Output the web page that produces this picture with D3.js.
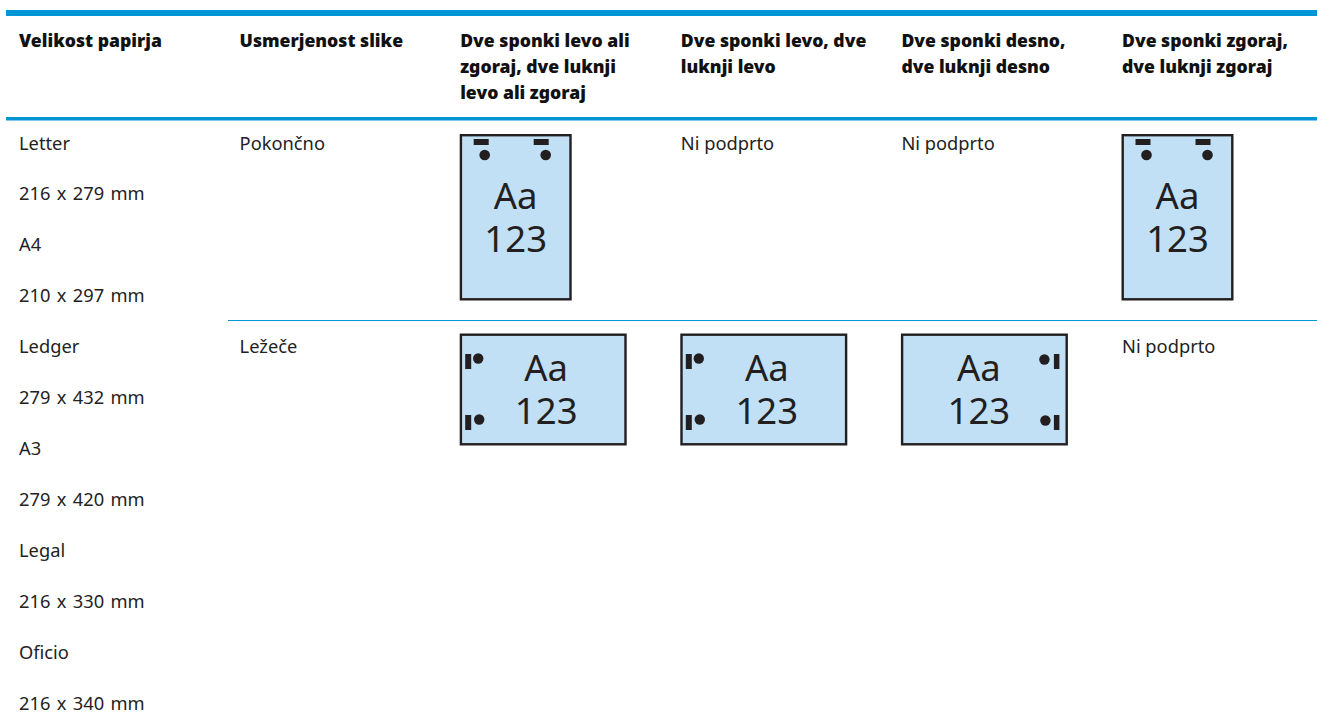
<!DOCTYPE html>
<html><head><meta charset="utf-8">
<script src="https://cdn.jsdelivr.net/npm/d3@7/dist/d3.min.js"></script>
<style>html,body{margin:0;padding:0;background:#fff}svg{display:block}</style>
</head><body><div id="c"></div>
<script>
const paperSizes = ["Letter","216 x 279 mm","A4","210 x 297 mm","Ledger","279 x 432 mm","A3","279 x 420 mm","Legal","216 x 330 mm","Oficio","216 x 340 mm"];
const headers = [
  ["Velikost papirja"],
  ["Usmerjenost slike"],
  ["Dve sponki levo ali","zgoraj, dve luknji","levo ali zgoraj"],
  ["Dve sponki levo, dve","luknji levo"],
  ["Dve sponki desno,","dve luknji desno"],
  ["Dve sponki zgoraj,","dve luknji zgoraj"]
];
const orientations = ["Pokončno","Ležeče"];
const cells = [
  ["top","none","none","top"],
  ["left","left","right","none"]
];
const unsupported = "Ni podprto";
const sampleLines = ["Aa","123"];

const W=1317,H=723;
const svg=d3.select("#c").append("svg").attr("width",W).attr("height",H);
const colX=d3.scaleLinear().domain([0,5]).range([19,1122]);
const rowY=d3.scaleLinear().domain([0,11]).range([149.5,709.5]);
const headY=d3.scaleLinear().domain([0,2]).range([47,98.5]);
const regular="'Noto Sans',sans-serif", bold="'Noto Sans',sans-serif";
const blue="#0096d6", ink="#231f20", paper="#c1e0f6";

svg.append("rect").attr("x",6).attr("y",10).attr("width",W-6).attr("height",6).attr("fill",blue);
svg.append("rect").attr("x",6).attr("y",117).attr("width",W-6).attr("height",3.5).attr("fill",blue);
svg.append("rect").attr("x",228).attr("y",320).attr("width",W-228).attr("height",1).attr("fill",blue);

headers.forEach((lines,c)=>{
  svg.append("g").selectAll("text").data(lines).join("text")
    .attr("x",colX(c)).attr("y",(d,i)=>headY(i))
    .attr("font-family",bold).attr("font-weight",900).attr("font-size",17.6).attr("fill","#111")
    .text(d=>d);
});
const bodySize=18.3;
svg.append("g").selectAll("text").data(paperSizes).join("text")
  .attr("x",colX(0)).attr("y",(d,i)=>rowY(i))
  .attr("font-family",regular).attr("font-size",bodySize).attr("word-spacing",1.6).attr("fill","#222").text(d=>d);
const rowTop=[134,333.5], pageH=[166.5,112], pageW=[112,167];
orientations.forEach((o,r)=>{
  svg.append("text").attr("x",colX(1)).attr("y",rowY(r===0?0:4)).attr("font-family",regular)
    .attr("font-size",bodySize).attr("fill","#222").text(o);
  cells[r].forEach((k,i)=>{
    const x=colX(i+2)-0.5;
    if(k==="none"){
      svg.append("text").attr("x",colX(i+2)).attr("y",rowY(r===0?0:4)).attr("font-family",regular)
        .attr("font-size",bodySize).attr("fill","#222").text(unsupported);
      return;
    }
    const g=svg.append("g").attr("transform",`translate(${x},${rowTop[r]})`);
    const w=pageW[r],h=pageH[r];
    g.append("rect").attr("x",1.2).attr("y",1.2).attr("width",w-2.4).attr("height",h-2.4)
      .attr("fill",paper).attr("stroke",ink).attr("stroke-width",2.4);
    const cx=k==="left"?w/2+3:k==="right"?w/2-5.5:w/2;
    const ys=r===0?[75,118]:[47,90];
    g.selectAll(".t").data(sampleLines).join("text").attr("text-anchor","middle")
      .attr("x",cx).attr("y",(d,i)=>ys[i]).attr("font-family",regular)
      .attr("font-size",36.5).attr("fill",ink).text(d=>d);
    if(k==="top"){
      [14,74].forEach(bx=>g.append("rect").attr("x",bx).attr("y",5).attr("width",15).attr("height",6).attr("fill",ink));
      [25,86].forEach(c2=>g.append("circle").attr("cx",c2).attr("cy",21).attr("r",5.3).attr("fill",ink));
    } else if(k==="left"){
      [20.5,81.5].forEach(by=>g.append("rect").attr("x",5.5).attr("y",by).attr("width",6).attr("height",15).attr("fill",ink));
      g.append("circle").attr("cx",18.5).attr("cy",25).attr("r",5.2).attr("fill",ink);
      g.append("circle").attr("cx",19.5).attr("cy",86).attr("r",5.2).attr("fill",ink);
    } else {
      [20.5,81.5].forEach(by=>g.append("rect").attr("x",w-14).attr("y",by).attr("width",5.5).attr("height",15).attr("fill",ink));
      g.append("circle").attr("cx",w-23.5).attr("cy",26).attr("r",5.2).attr("fill",ink);
      g.append("circle").attr("cx",w-22.5).attr("cy",87).attr("r",5.2).attr("fill",ink);
    }
  });
});
</script></body></html>
